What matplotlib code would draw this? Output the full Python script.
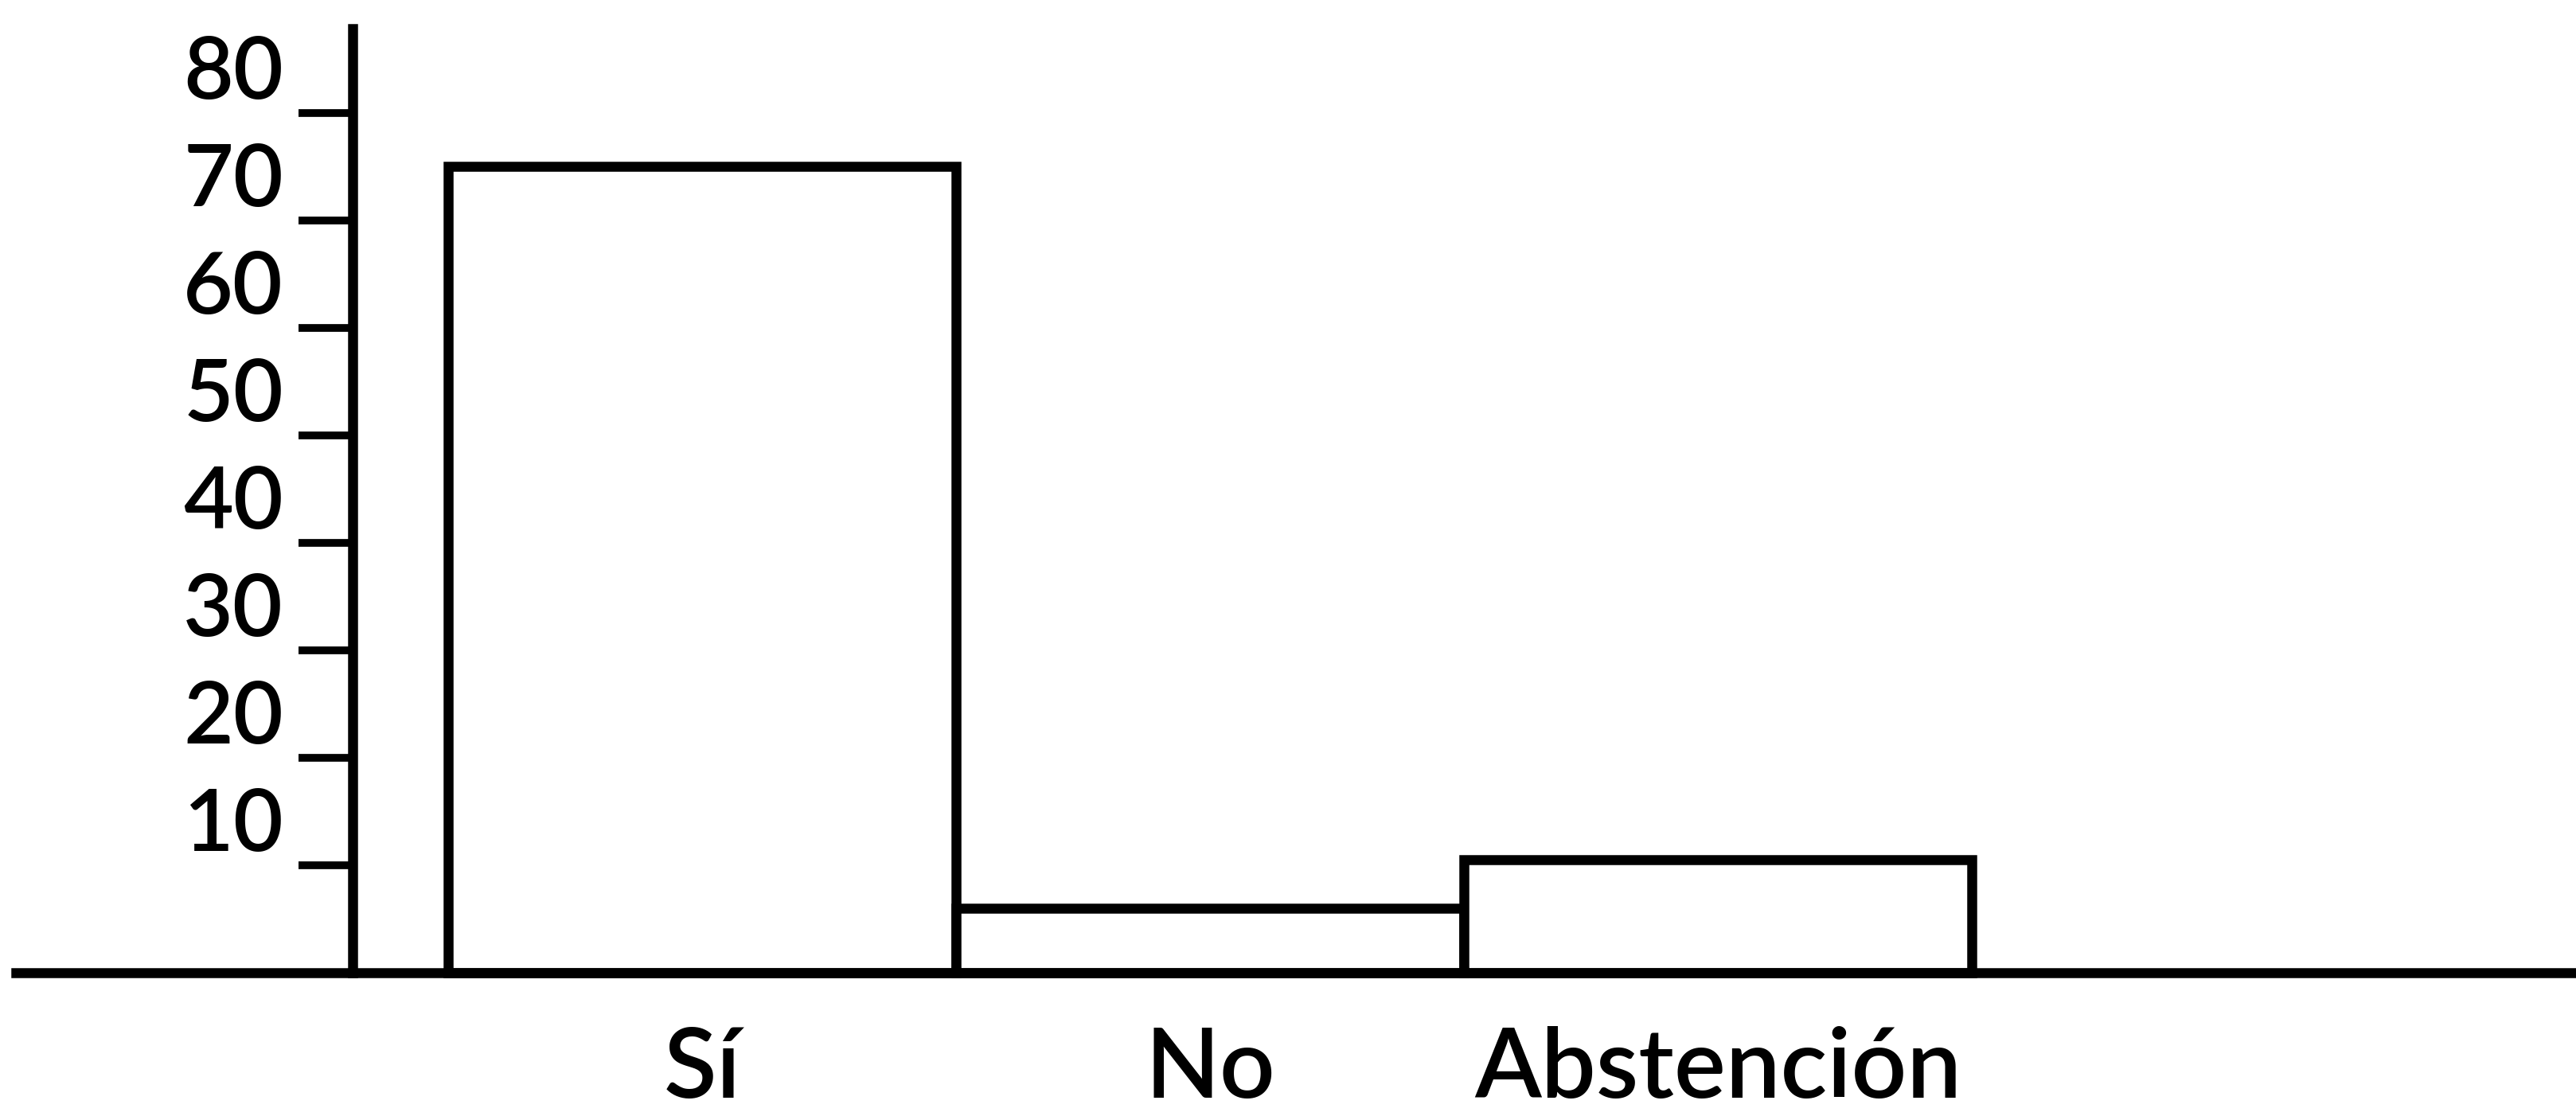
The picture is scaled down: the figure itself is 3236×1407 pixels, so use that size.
import matplotlib
matplotlib.use("Agg")
from matplotlib import pyplot as plt

# Data
categories = ["Sí", "No", "Abstención"]
values = [75, 6, 10.5]
y_ticks = [10, 20, 30, 40, 50, 60, 70, 80]
y_tick_labels = ["10", "20", "30", "40", "50", "60", "70", "80"]

plt.rcParams['font.family'] = ['Lato', 'DejaVu Sans']

fig = plt.figure(figsize=(32.37, 14.07), dpi=100, facecolor='white')
ax = fig.add_axes([0, 0, 1, 1])
ax.set_facecolor('white')

lw = 9
x = list(range(len(categories)))
ax.bar(x, values, width=1.0, align='edge', facecolor='white',
       edgecolor='black', linewidth=lw, zorder=2)

ax.set_xlim(-0.882, 4.191)
ax.set_ylim(-13.7, 90.5)

# axes lines: y axis a bit left of the first bar, baseline across the page
ax.spines['top'].set_visible(False)
ax.spines['right'].set_visible(False)
ax.spines['left'].set_position(('data', -0.187))
ax.spines['left'].set_bounds(0, 87.8)
ax.spines['left'].set_linewidth(lw)
ax.spines['bottom'].set_position(('data', 0))
ax.spines['bottom'].set_bounds(-0.85, 4.191)
ax.spines['bottom'].set_linewidth(lw)
ax.spines['left'].set_zorder(3)
ax.spines['bottom'].set_zorder(3)

ax.set_yticks(y_ticks)
ax.set_yticklabels(y_tick_labels, va='bottom', fontsize=78, fontweight='semibold')
ax.tick_params(axis='y', direction='out', length=49, width=7, pad=14)

ax.set_xticks([i + 0.5 for i in x])
ax.set_xticklabels(categories, fontsize=88, fontweight='semibold')
ax.tick_params(axis='x', length=0, pad=48)

fig.savefig('out.png', dpi=100, facecolor='white')
